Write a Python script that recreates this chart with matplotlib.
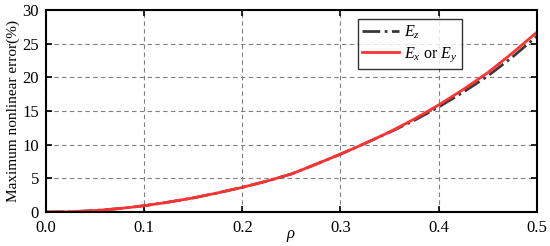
import numpy as np
import matplotlib
matplotlib.use("Agg")
import matplotlib.pyplot as plt

plt.rcParams['font.family'] = 'Liberation Serif'
plt.rcParams['mathtext.fontset'] = 'custom'
plt.rcParams['mathtext.rm'] = 'Liberation Serif'
plt.rcParams['mathtext.it'] = 'Liberation Serif:italic'

# valeurs
rho = [0.0, 0.025, 0.05, 0.075, 0.1, 0.125, 0.15, 0.175, 0.2, 0.225, 0.25,
       0.275, 0.3, 0.325, 0.35, 0.375, 0.4, 0.425, 0.45, 0.475, 0.5]
err_xy = [0.0, 0.05, 0.22, 0.52, 0.94, 1.48, 2.1, 2.85, 3.67, 4.6, 5.65,
          7.1, 8.6, 10.2, 11.9, 13.8, 15.9, 18.2, 20.7, 23.6, 26.7]
err_z = [0.0, 0.05, 0.22, 0.52, 0.94, 1.48, 2.1, 2.85, 3.67, 4.6, 5.65,
         7.1, 8.6, 10.2, 11.85, 13.6, 15.6, 17.8, 20.2, 23.0, 26.1]

fig = plt.figure(figsize=(5.5, 2.46), dpi=100)
ax = fig.add_axes([0.0836, 0.138, 0.8924, 0.821])

ax.plot(rho, err_z, color='#3a3a3a', linestyle='-.', linewidth=2, label='$E_z$')
ax.plot(rho, err_xy, color='#ff3333', linestyle='-', linewidth=2, label='$E_x$ or $E_y$')

ax.set_xlim(0, 0.5)
ax.set_ylim(0, 30)
ax.set_xticks([0.0, 0.1, 0.2, 0.3, 0.4, 0.5])
ax.set_xticklabels(['0.0', '0.1', '0.2', '0.3', '0.4', '0.5'])
ax.set_yticks([0, 5, 10, 15, 20, 25, 30])
ax.grid(True, color='#808080', linestyle=(0, (4, 3)), linewidth=0.8)
ax.tick_params(direction='in', top=True, right=True, length=4, width=1.2, labelsize=12)
ax.tick_params(axis='x', pad=6)
ax.tick_params(axis='y', pad=5)
for s in ax.spines.values():
    s.set_linewidth(1.5)

ax.set_xlabel(r'$\rho$', fontsize=12, labelpad=-6)
ax.set_ylabel('Maximum nonlinear error(%)', fontsize=11, labelpad=2)

leg = ax.legend(loc='upper left', bbox_to_anchor=(0.635, 0.955), fontsize=11.5, frameon=True,
                fancybox=False, edgecolor='black', handlelength=2.3, borderpad=0.3,
                labelspacing=0.25, handletextpad=0.3, borderaxespad=0)
leg.get_frame().set_linewidth(1.0)

fig.savefig('out.png', dpi=100)
